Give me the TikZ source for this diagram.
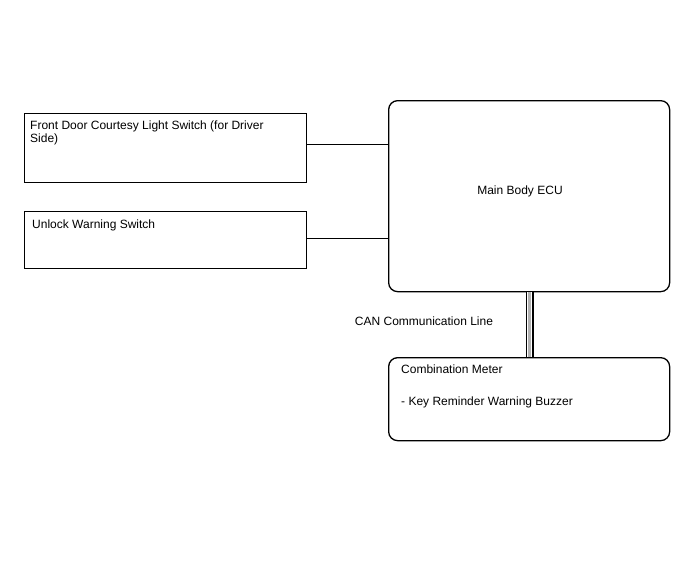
\documentclass[tikz,border=0pt]{standalone}
\usepackage{fontspec}
\setmainfont{Liberation Sans}
\usetikzlibrary{positioning, calc}

\begin{document}
\begin{tikzpicture}[x=1pt, y=-1pt,
    swbox/.style={draw, line width=1.3pt, inner sep=0pt, anchor=north west, minimum width=282pt},
    ecubox/.style={draw, line width=1.3pt, inner sep=0pt, anchor=north west, minimum width=281pt, rounded corners=9pt},
    boxtext/.style={font=\fontsize{12}{13.5}\selectfont, inner sep=0pt, align=left},
    wire/.style={line width=0.6pt}]
  \useasboundingbox (0,0) rectangle (688,560);
  % switches on the left
  \node[swbox, minimum height=69pt] (door) at (24,113) {};
  \node[swbox, minimum height=57pt] (unlock) at (24,211) {};
  \node[boxtext, anchor=north west] (doortxt) at ($(door.north west)+(6,7.5)$)
    {Front Door Courtesy Light Switch (for Driver\\Side)};
  \node[boxtext, anchor=north west] (unlocktxt) at ($(unlock.north west)+(8,8.5)$)
    {Unlock Warning Switch};
  % ECU and meter
  \node[ecubox, minimum height=191pt] (ecu) at (388,100) {};
  \node[ecubox, minimum height=83pt] (meter) at (388,357) {};
  \node[boxtext] (ecutxt) at (520,191) {Main Body ECU};
  \node[boxtext, anchor=north west] (metertxt) at ($(meter.north west)+(13,8)$)
    {Combination Meter\\[18pt]- Key Reminder Warning Buzzer};
  % wires
  \coordinate (d1) at (door.east |- 0,144);
  \coordinate (u1) at (unlock.east |- 0,238);
  \draw[wire] (d1) -- (d1 -| ecu.west);
  \draw[wire] (u1) -- (u1 -| ecu.west);
  % CAN line
  \coordinate (c1) at (529.5,0);
  \draw[line width=8pt] (c1 |- ecu.south) -- (c1 |- meter.north);
  \draw[line width=5pt, white] (c1 |- ecu.south) -- (c1 |- meter.north);
  \draw[line width=2.5pt, gray!60] (c1 |- ecu.south) -- (c1 |- meter.north);
  \node[boxtext] (cantxt) at (424,321.5) {CAN Communication Line};
\end{tikzpicture}
\end{document}
